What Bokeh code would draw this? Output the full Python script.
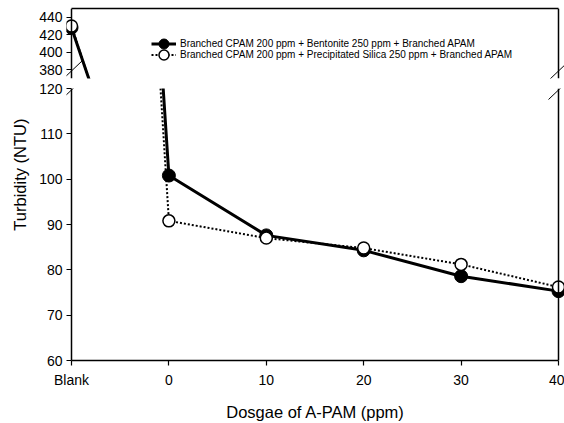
from bokeh.plotting import figure
from bokeh.models import (Range1d, LinearAxis, FixedTicker, Span, Legend, LegendItem,
                          Title, Arrow, ColumnDataSource)
from bokeh.layouts import column
from bokeh.embed import file_html
from bokeh.resources import INLINE

# ---------------- data ----------------
dosage_labels = ["Blank", "0", "10", "20", "30", "40"]
dosage = [-10, 0, 10, 20, 30, 40]          # "Blank" sits one step left of 0
bentonite = [428, 100.8, 87.6, 84.3, 78.6, 75.3]
silica = [430, 90.8, 87.0, 84.8, 81.2, 76.2]
series_names = [
    "Branched CPAM 200 ppm + Bentonite 250 ppm + Branched APAM",
    "Branched CPAM 200 ppm + Precipitated Silica 250 ppm + Branched APAM",
]
upper_ticks = [380, 400, 420, 440]
lower_ticks = [60, 70, 80, 90, 100, 110, 120]
x_title = "Dosgae of A-PAM (ppm)"
y_title = "Turbidity (NTU)"

# ---------------- layout ----------------
FONT = "Liberation Sans"
FRAME_L = 66
FRAME_W = 564 - FRAME_L
PX_UNIT = 487 / 50.0
X0 = -10 - 5 / PX_UNIT
X1 = 40 + 6 / PX_UNIT
TOP_B, TOP_H, TOP_BB = 8, 70, 1
LOW_BT, LOW_H, LOW_BB = 9, 272, 63
TOP_CANVAS = TOP_B + TOP_H + TOP_BB          # 79


def make_fig(y0, y1, frame_h, top_b, bot_b):
    p = figure(frame_width=FRAME_W, frame_height=frame_h,
               x_range=Range1d(X0, X1), y_range=Range1d(y0, y1),
               output_backend="svg", toolbar_location=None,
               x_axis_location=None, y_axis_location=None,
               min_border_left=FRAME_L, min_border_right=0,
               min_border_top=top_b, min_border_bottom=bot_b)
    p.grid.visible = False
    p.outline_line_color = None
    p.background_fill_color = "white"
    p.border_fill_color = "white"
    return p


def left_axis(p, ticks):
    ax = LinearAxis(ticker=FixedTicker(ticks=ticks), axis_line_color=None,
                    major_tick_out=0, major_tick_in=5, minor_tick_out=0, minor_tick_in=0,
                    major_label_standoff=4, major_label_text_font=FONT,
                    major_label_text_font_size="14px", major_label_text_color="black",
                    major_tick_line_width=1.2)
    p.add_layout(ax, "left")
    # spine drawn at the "Blank" position
    p.add_layout(Span(location=dosage[0], dimension="height", line_color="black", line_width=1.5))
    # right spine
    p.add_layout(Span(location=dosage[-1], dimension="height", line_color="black", line_width=1.5))


def draw_series(p, src):
    ls = p.line("x", "s", source=src, line_color="black", line_width=2, line_dash="2 2")
    lb = p.line("x", "b", source=src, line_color="black", line_width=3)
    mb = p.scatter("x", "b", source=src, size=13, marker="circle",
                   fill_color="black", line_color="black")
    ms = p.scatter("x", "s", source=src, size=12, marker="circle",
                   fill_color="white", line_color="black", line_width=1.5)
    return lb, mb, ls, ms


src = ColumnDataSource(dict(x=dosage, b=bentonite, s=silica))

# upper panel
top = make_fig(370, 450, TOP_H, TOP_B, TOP_BB)
left_axis(top, upper_ticks)
top.add_layout(LinearAxis(ticker=FixedTicker(ticks=[]), bounds=(dosage[0], dosage[-1]),
                          axis_line_width=1.5, major_tick_out=0, major_tick_in=0,
                          major_label_standoff=0, major_label_text_font_size="0px"), "above")
lb, mb, ls, ms = draw_series(top, src)
for (label, rends), loc in zip([(series_names[0], [lb, mb]), (series_names[1], [ls, ms])],
                               [(85, 22.5), (85, 11.5)]):
    top.add_layout(Legend(items=[LegendItem(label=label, renderers=rends)],
                          location=loc, border_line_color=None, background_fill_alpha=0,
                          padding=0, margin=0, spacing=0, glyph_width=25, glyph_height=25,
                          label_height=25, label_standoff=4, label_text_font=FONT,
                          label_text_font_size="10px", label_text_color="black"))

# lower panel
bot = make_fig(60, 120, LOW_H, LOW_BT, LOW_BB)
left_axis(bot, lower_ticks)
bot.add_layout(Title(text=y_title, align="right", offset=30, text_font=FONT,
                     text_font_size="16.5px", text_font_style="normal",
                     text_color="black", standoff=16), "left")
xa = LinearAxis(ticker=FixedTicker(ticks=dosage), bounds=(dosage[0], dosage[-1]),
                major_label_overrides={d: lab for d, lab in zip(dosage, dosage_labels)},
                major_tick_out=5, major_tick_in=0, minor_tick_out=0, minor_tick_in=0,
                major_label_standoff=6, major_label_text_font=FONT,
                major_label_text_font_size="14px", major_label_text_color="black",
                axis_line_width=1.5, major_tick_line_width=1.2,
                axis_label=x_title, axis_label_text_font=FONT,
                axis_label_text_font_size="16.5px", axis_label_text_font_style="normal",
                axis_label_text_color="black", axis_label_standoff=12)
bot.add_layout(xa, "below")
draw_series(bot, src)

# axis-break slashes (page pixel positions, split between the two canvases)
canvases = [(top, 0, TOP_CANVAS, TOP_B + TOP_H),
            (bot, TOP_CANVAS, TOP_CANVAS + LOW_BT + LOW_H + LOW_BB, TOP_CANVAS + LOW_BT + LOW_H)]


def add_slash(x0, y0, x1, y1):
    for fig, c_top, c_bot, f_bottom in canvases:
        lo, hi = max(min(y0, y1), c_top), min(max(y0, y1), c_bot)
        if hi <= lo:
            continue

        def xat(y):
            return x0 + (y - y0) * (x1 - x0) / (y1 - y0)
        fig.add_layout(Arrow(end=None, start=None,
                             x_start=xat(hi) - FRAME_L, y_start=f_bottom - hi,
                             x_end=xat(lo) - FRAME_L, y_end=f_bottom - lo,
                             start_units="screen", end_units="screen",
                             line_color="black", line_width=1))


add_slash(62, 79, 82, 60)
add_slash(62, 98, 82, 79)
add_slash(548, 80, 568, 61)
add_slash(548, 99, 568, 80)

layout = column(top, bot)
open("out.html", "w").write(file_html(layout, INLINE))
